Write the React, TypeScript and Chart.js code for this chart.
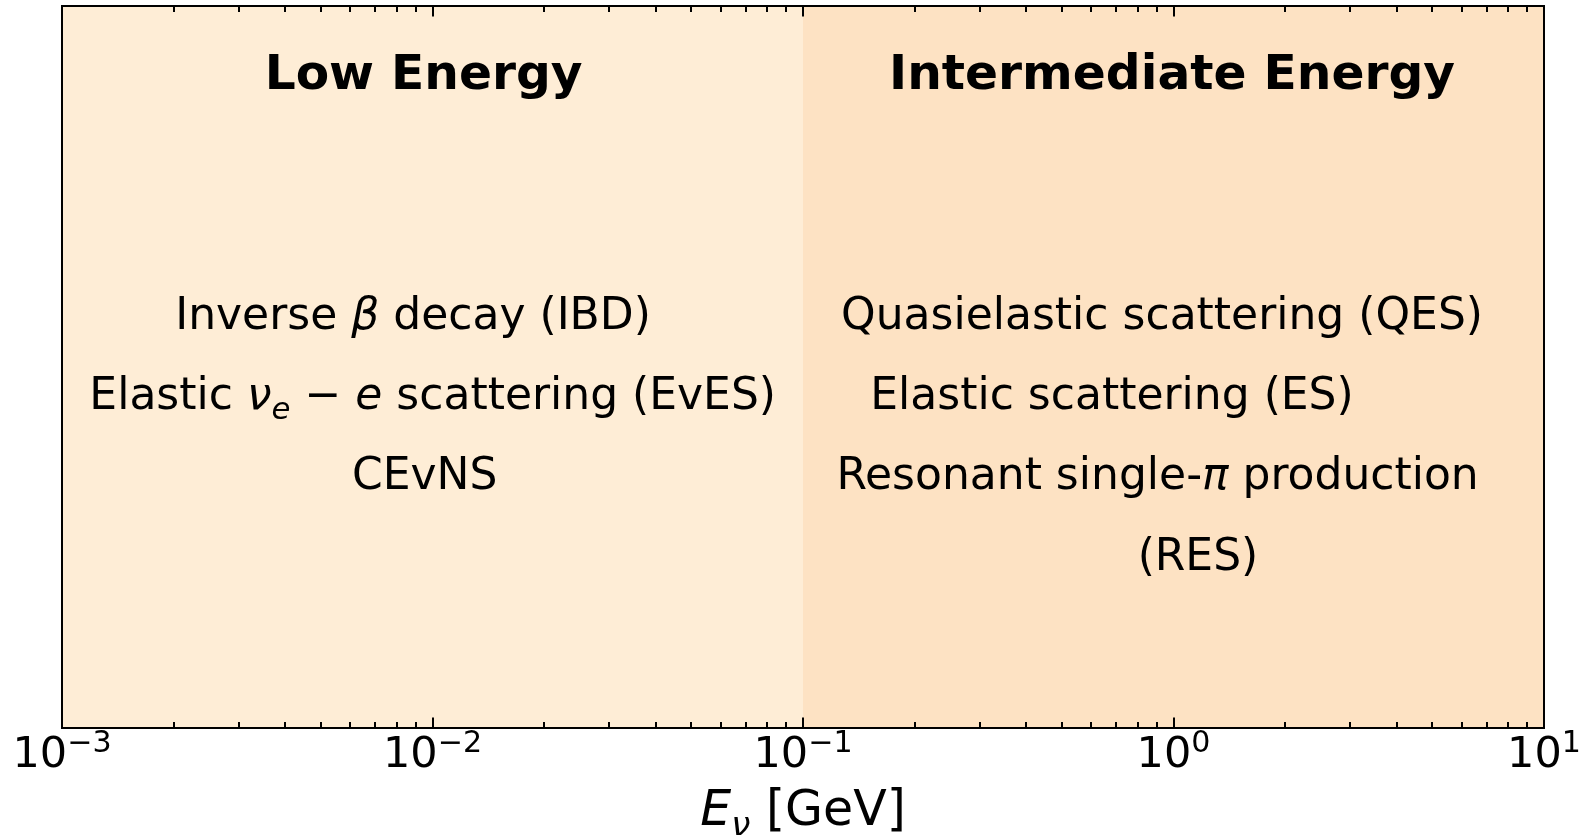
import React, { useEffect, useRef } from "react";
import { Chart, registerables } from "chart.js";

Chart.register(...registerables);

// ---- data ----
const regionNames = ["Low Energy", "Intermediate Energy"];
const regionStart = [1e-3, 1e-1];
const regionEnd = [1e-1, 1e1];
const regionColors = ["rgb(254,237,214)", "rgb(253,226,195)"];

const xMin = 1e-3;
const xMax = 1e1;
const majorTickExponents = [-3, -2, -1, 0, 1];
const minorTickMultipliers = [2, 3, 4, 5, 6, 7, 8, 9];
const tickLabelExponents = ["\u22123", "\u22122", "\u22121", "0", "1"];

// segments: [text, style]  n = normal, i = italic, s = italic subscript, b = bold
type Seg = [string, string];

const regionTitleLogX = [-2.024, -0.004];
const regionTitleY = 0.885;

const lowLines: Seg[][] = [
  [["Inverse ", "n"], ["\u03B2", "i"], [" decay (IBD)", "n"]],
  [["Elastic ", "n"], ["\u03BD", "i"], ["e", "s"], [" \u2212 ", "n"], ["e", "i"], [" scattering (EvES)", "n"]],
  [["CEvNS", "n"]],
];
const lowLineLogX = [-2.0526, -1.9995, -2.0213];
const lowLineY = [0.5526, 0.4418, 0.331];

const intermediateLines: Seg[][] = [
  [["Quasielastic scattering (QES)", "n"]],
  [["Elastic scattering (ES)", "n"]],
  [["Resonant single-", "n"], ["\u03C0", "i"], [" production", "n"]],
  [["(RES)", "n"]],
];
const intermediateLineLogX = [-0.031, -0.166, -0.043, 0.066];
const intermediateLineY = [0.5526, 0.4418, 0.331, 0.2188];

const axisLabel: Seg[] = [["E", "i"], ["\u03BD", "s"], [" [GeV]", "n"]];

// ---- styles ----
const FONT = '"DejaVu Sans", "Liberation Sans", sans-serif';
const TITLE_SIZE = 48.7;
const BODY_SIZE = 44;
const TICK_SIZE = 43;
const AXIS_LABEL_SIZE = 49;

function fontFor(style: string, size: number) {
  const italic = style === "i" || style === "s";
  const bold = style === "b";
  const s = style === "s" ? size * 0.7 : size;
  return `${italic ? "italic " : ""}${bold ? "bold " : ""}${s}px ${FONT}`;
}

function drawRich(ctx: CanvasRenderingContext2D, segs: Seg[], cx: number, baseline: number, size: number) {
  let total = 0;
  const widths: number[] = [];
  for (const [t, st] of segs) {
    ctx.font = fontFor(st, size);
    const w = ctx.measureText(t).width;
    widths.push(w);
    total += w;
  }
  let x = cx - total / 2;
  ctx.textAlign = "left";
  ctx.textBaseline = "alphabetic";
  segs.forEach(([t, st], i) => {
    ctx.font = fontFor(st, size);
    const dy = st === "s" ? size * 0.22 : 0;
    ctx.fillText(t, x, baseline + dy);
    x += widths[i];
  });
}

const decorPlugin = {
  id: "decor",
  afterDatasetsDraw(chart: any) {
    const { ctx, chartArea: a, scales } = chart;
    const xs = scales.x;
    const ys = scales.y;
    ctx.save();
    ctx.fillStyle = "#000";
    ctx.strokeStyle = "#000";

    // ticks (inward, top and bottom)
    ctx.lineWidth = 2;
    ctx.beginPath();
    for (const e of majorTickExponents) {
      const px = Math.round(xs.getPixelForValue(Math.pow(10, e)));
      ctx.moveTo(px, a.bottom);
      ctx.lineTo(px, a.bottom - 10.5);
      ctx.moveTo(px, a.top);
      ctx.lineTo(px, a.top + 10.5);
    }
    for (const e of majorTickExponents.slice(0, -1)) {
      for (const m of minorTickMultipliers) {
        const px = Math.round(xs.getPixelForValue(m * Math.pow(10, e)));
        ctx.moveTo(px, a.bottom);
        ctx.lineTo(px, a.bottom - 6);
        ctx.moveTo(px, a.top);
        ctx.lineTo(px, a.top + 6);
      }
    }
    ctx.stroke();

    // frame
    ctx.lineWidth = 2;
    ctx.strokeRect(a.left, a.top, a.right - a.left, a.bottom - a.top);

    // tick labels
    majorTickExponents.forEach((e, i) => {
      const px = xs.getPixelForValue(Math.pow(10, e));
      const base = "10";
      const sup = tickLabelExponents[i];
      ctx.font = `${TICK_SIZE}px ${FONT}`;
      const w1 = ctx.measureText(base).width;
      ctx.font = `${TICK_SIZE * 0.7}px ${FONT}`;
      const w2 = ctx.measureText(sup).width;
      const x0 = px - (w1 + w2) / 2;
      const baseline = a.bottom + 39;
      ctx.textAlign = "left";
      ctx.textBaseline = "alphabetic";
      ctx.font = `${TICK_SIZE}px ${FONT}`;
      ctx.fillText(base, x0, baseline);
      ctx.font = `${TICK_SIZE * 0.7}px ${FONT}`;
      ctx.fillText(sup, x0 + w1, baseline - 15);
    });

    // axis label
    drawRich(ctx, axisLabel, (a.left + a.right) / 2, a.bottom + 97, AXIS_LABEL_SIZE);

    // region titles
    regionNames.forEach((name, i) => {
      const px = xs.getPixelForValue(Math.pow(10, regionTitleLogX[i]));
      drawRich(ctx, [[name, "b"]], px, ys.getPixelForValue(regionTitleY), TITLE_SIZE);
    });

    // process lists
    lowLines.forEach((segs, i) => {
      drawRich(ctx, segs, xs.getPixelForValue(Math.pow(10, lowLineLogX[i])), ys.getPixelForValue(lowLineY[i]), BODY_SIZE);
    });
    intermediateLines.forEach((segs, i) => {
      drawRich(
        ctx,
        segs,
        xs.getPixelForValue(Math.pow(10, intermediateLineLogX[i])),
        ys.getPixelForValue(intermediateLineY[i]),
        BODY_SIZE
      );
    });
    ctx.restore();
  },
};

export default function App() {
  const ref = useRef<HTMLCanvasElement | null>(null);
  useEffect(() => {
    document.body.style.margin = "0";
    document.body.style.overflow = "hidden";
    const canvas = ref.current;
    if (!canvas) return;
    const chart = new Chart(canvas, {
      type: "line",
      data: {
        datasets: regionNames.map((name, i) => ({
          label: name,
          data: [
            { x: regionStart[i], y: 1 },
            { x: regionEnd[i], y: 1 },
          ],
          fill: "origin",
          backgroundColor: regionColors[i],
          borderWidth: 0,
          borderColor: "rgba(0,0,0,0)",
          pointRadius: 0,
          tension: 0,
        })),
      },
      options: {
        animation: false,
        responsive: false,
        devicePixelRatio: 1,
        layout: { padding: { left: 62, right: 48, top: 6, bottom: 107 } },
        plugins: { legend: { display: false }, tooltip: { enabled: false }, title: { display: false } },
        scales: {
          x: { type: "logarithmic", min: xMin, max: xMax, display: false },
          y: { type: "linear", min: 0, max: 1, display: false },
        },
      },
      plugins: [decorPlugin],
    });
    return () => chart.destroy();
  }, []);
  return (
    <canvas
      ref={ref}
      width={1592}
      height={835}
      style={{ display: "block", width: 1592, height: 835, background: "#fff" }}
    />
  );
}
